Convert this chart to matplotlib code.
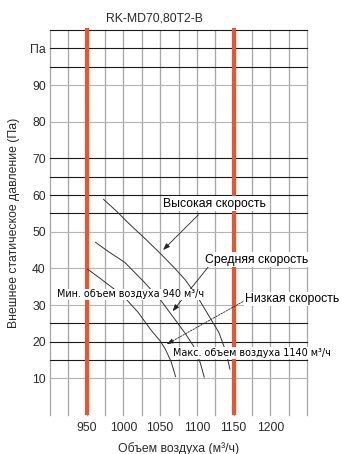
import matplotlib
matplotlib.use("Agg")
import matplotlib.pyplot as plt

plt.rcParams["font.family"] = ["Liberation Sans", "DejaVu Sans"]

# fan curves (airflow m3/h, external static pressure Pa)
high_x = [973, 990, 1007, 1030, 1052, 1070, 1084, 1100, 1115, 1130, 1140, 1145]
high_y = [58.8, 55.7, 52.3, 48.0, 43.7, 40.0, 36.9, 32.5, 27.5, 22.5, 17.0, 12.5]
mid_x = [962, 980, 1002, 1027, 1050, 1070, 1085, 1098, 1105, 1110]
mid_y = [47.1, 44.5, 41.6, 36.5, 31.5, 26.1, 22.0, 18.0, 14.0, 10.3]
low_x = [951, 970, 1000, 1020, 1037, 1050, 1057, 1065, 1071]
low_y = [39.8, 37.0, 32.4, 28.0, 23.3, 20.2, 18.0, 14.5, 10.5]

limits_x = [950, 1150]  # min / max airflow markers
x_ticks = [950, 1000, 1050, 1100, 1150, 1200]
y_ticks = [10, 20, 30, 40, 50, 60, 70, 80, 90, 100]
y_labels = ["10", "20", "30", "40", "50", "60", "70", "80", "90", "Па"]

v_grid = list(range(900, 1251, 25))
h_grid_light = [10, 30, 40, 50, 80, 90]
h_grid_dark = [15, 20, 25, 55, 60, 65, 70, 95, 100, 105]

RED = "#f0532a"

fig = plt.figure(figsize=(3.42, 4.54), dpi=100)
ax = fig.add_axes([0.1462, 0.0859, 0.7515, 0.848])
ax.set_xlim(900, 1250)
ax.set_ylim(0, 105)
for s in ax.spines.values():
    s.set_visible(False)

for x in v_grid:
    ax.plot([x, x], [0, 105], color="#a8a8a8", lw=0.95, clip_on=False, zorder=1)
for y in h_grid_light:
    ax.plot([900, 1250], [y, y], color="#b4b4b4", lw=0.8, clip_on=False, zorder=1)
for y in h_grid_dark:
    ax.plot([900, 1250], [y, y], color="#1a1a1a", lw=0.8, clip_on=False, zorder=1)

for x in limits_x:
    ax.plot([x, x], [0, 105.6], color=RED, lw=3.0, solid_capstyle="butt",
            clip_on=False, zorder=2)

for xs, ys in [(high_x, high_y), (mid_x, mid_y), (low_x, low_y)]:
    ax.plot(xs, ys, color="#333333", lw=0.7, zorder=3)

box = dict(facecolor="white", edgecolor="none", pad=1.0)
ax.text(1054, 57.6, "Высокая скорость", fontsize=8.8, va="center", ha="left",
        bbox=box, zorder=5)
ax.text(1111, 42.4, "Средняя скорость", fontsize=8.8, va="center", ha="left",
        bbox=box, zorder=5)
ax.text(1166, 31.6, "Низкая скорость", fontsize=8.8, va="center", ha="left",
        bbox=box, zorder=5)
small = dict(facecolor="white", edgecolor="none", pad=0.6)
ax.text(909, 32.9, "Мин. объем воздуха 940 м³/ч", fontsize=6.9, va="center",
        ha="left", family=["DejaVu Sans"], bbox=small, zorder=5)
ax.text(1068, 16.9, "Макс. объем воздуха 1140 м³/ч", fontsize=6.9, va="center",
        ha="left", family=["DejaVu Sans"], bbox=small, zorder=5)

arrow = dict(arrowstyle="-|>,head_length=0.4,head_width=0.15", color="#222222",
             lw=0.6, shrinkA=0, shrinkB=0)
ax.annotate("", xy=(1054, 45.0), xytext=(1102, 54.6), arrowprops=arrow, zorder=4)
ax.annotate("", xy=(1067, 28.3), xytext=(1118, 41.0), arrowprops=arrow, zorder=4)
dashed = dict(arrow, linestyle=(0, (2, 1.5)))
ax.annotate("", xy=(1059, 19.3), xytext=(1166, 31.3), arrowprops=dashed, zorder=4)

ax.set_xticks(x_ticks)
ax.set_yticks(y_ticks)
ax.set_yticklabels(y_labels)
ax.tick_params(length=0, labelsize=8.8, colors="#2a2a2a", pad=3)
ax.tick_params(axis="x", pad=5)

ax.set_xlabel("Объем воздуха (м³/ч)", fontsize=8.8, color="#2a2a2a", labelpad=6)
ax.set_ylabel("Внешнее статическое давление (Па)", fontsize=8.8, color="#2a2a2a",
              labelpad=7)
fig.text(0.452, 0.96, "RK-MD70,80T2-B", fontsize=8.8, ha="center", va="center",
         color="#2a2a2a")

fig.savefig("out.png", dpi=100)
